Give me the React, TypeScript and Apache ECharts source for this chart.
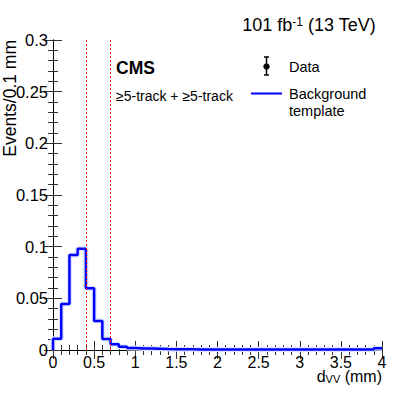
import React, { useEffect, useRef } from "react";
import * as echarts from "echarts";

const BIN_WIDTH = 0.1;
// Background template, events per 0.1 mm bin, bins from 0 to 4 mm
const templateValues = [
  0.011, 0.0445, 0.092, 0.098, 0.0597, 0.028, 0.0106, 0.0055, 0.0032, 0.002,
  0.0015, 0.0014, 0.0012, 0.0009, 0.0008, 0.0007, 0.0007, 0.0006, 0.0006, 0.0006,
  0.0006, 0.0005, 0.0005, 0.0005, 0.0005, 0.0005, 0.0005, 0.0005, 0.0005, 0.0005,
  0.0005, 0.0005, 0.0005, 0.0005, 0.0005, 0.0005, 0.0005, 0.0005, 0.0005, 0.0018,
];
const cutLines = [0.4, 0.7];
const xTicks = ["0", "0.5", "1", "1.5", "2", "2.5", "3", "3.5", "4"];
const yTicks = ["0", "0.05", "0.1", "0.15", "0.2", "0.25", "0.3"];

const FONT = "'Liberation Sans', Arial, Helvetica, sans-serif";

export default function App() {
  const ref = useRef<HTMLDivElement>(null);
  useEffect(() => {
    if (!ref.current) return;
    const chart = echarts.init(ref.current, undefined, { renderer: "svg" });
    const stepData: number[][] = [[0, 0]];
    templateValues.forEach((v, i) => stepData.push([Number((i * BIN_WIDTH).toFixed(1)), v]));
    stepData.push([templateValues.length * BIN_WIDTH, templateValues[templateValues.length - 1]]);

    const xMin = Number(xTicks[0]);
    const xMax = Number(xTicks[xTicks.length - 1]);
    const xInt = Number(xTicks[1]) - xMin;
    const yMin = Number(yTicks[0]);
    const yMax = Number(yTicks[yTicks.length - 1]);
    const yInt = Number(yTicks[1]) - yMin;

    const axisLine = { show: true, lineStyle: { color: "#000", width: 1 } };
    const tick = { show: true, inside: true, length: 9, lineStyle: { color: "#333", width: 1 } };
    const minor = { show: true, splitNumber: 5, length: 5, lineStyle: { color: "#333", width: 1 } };
    const label = { fontFamily: FONT, fontSize: 16, color: "#000" };

    chart.setOption({
      animation: false,
      grid: { left: 53, right: 25, top: 40, bottom: 43, containLabel: false },
      xAxis: [
        {
          type: "value", min: xMin, max: xMax, interval: xInt, position: "bottom",
          axisLine, axisTick: tick, minorTick: minor, splitLine: { show: false },
          axisLabel: { ...label, margin: 4, showMinLabel: true, showMaxLabel: true },
        },
        {
          type: "value", min: xMin, max: xMax, interval: xInt, position: "top",
          axisLine, axisTick: tick, minorTick: minor, splitLine: { show: false },
          axisLabel: { show: false },
        },
      ],
      yAxis: [
        {
          type: "value", min: yMin, max: yMax, interval: yInt, position: "left",
          axisLine, axisTick: tick, minorTick: minor, splitLine: { show: false },
          axisLabel: { ...label, fontSize: 16.5, margin: 5 },
        },
        {
          type: "value", min: yMin, max: yMax, interval: yInt, position: "right",
          axisLine, axisTick: tick, minorTick: minor, splitLine: { show: false },
          axisLabel: { show: false },
        },
      ],
      series: [
        {
          type: "line", step: "end", data: stepData, showSymbol: false, symbol: "none",
          lineStyle: { color: "#dbe4ff", width: 5 }, silent: true, z: 1,
        },
        {
          type: "line", step: "end", data: stepData, showSymbol: false, symbol: "none",
          lineStyle: { color: "#0000ff", width: 2.5 }, silent: true, z: 2,
          markLine: {
            silent: true, symbol: ["none", "none"], label: { show: false },
            lineStyle: { color: "#ff0000", type: [2, 2], width: 1 },
            data: cutLines.map((x) => ({ xAxis: x })),
            z: 3,
          },
        },
      ],
      graphic: [
        {
          type: "text", right: 31, top: 16,
          style: {
            text: "101 fb{sup|-1} (13 TeV)",
            fontFamily: FONT, fontSize: 18, fill: "#000",
            rich: { sup: { fontSize: 12, verticalAlign: "top", fontFamily: FONT, padding: [0, 0, 6, 0] } },
          },
        },
        {
          type: "text", x: 116, y: 68,
          style: { text: "CMS", fontFamily: FONT, fontSize: 17.5, fontWeight: "bold", fill: "#000", textVerticalAlign: "middle", verticalAlign: "middle" },
        },
        {
          type: "text", x: 116, y: 96,
          style: { text: "\u22655-track + \u22655-track", fontFamily: FONT, fontSize: 14, fill: "#000", textVerticalAlign: "middle", verticalAlign: "middle" },
        },
        { type: "line", shape: { x1: 266.5, y1: 57, x2: 266.5, y2: 75 }, style: { stroke: "#000", lineWidth: 1.5 } },
        { type: "line", shape: { x1: 264, y1: 57, x2: 269, y2: 57 }, style: { stroke: "#000", lineWidth: 1.5 } },
        { type: "line", shape: { x1: 264, y1: 75, x2: 269, y2: 75 }, style: { stroke: "#000", lineWidth: 1.5 } },
        { type: "circle", shape: { cx: 266.5, cy: 66.5, r: 3.2 }, style: { fill: "#000" } },
        {
          type: "text", x: 289, y: 67,
          style: { text: "Data", fontFamily: FONT, fontSize: 14.5, fill: "#000", textVerticalAlign: "middle", verticalAlign: "middle" },
        },
        { type: "line", shape: { x1: 251, y1: 93.5, x2: 282, y2: 93.5 }, style: { stroke: "#0000ff", lineWidth: 2 } },
        {
          type: "text", x: 289, y: 94,
          style: { text: "Background", fontFamily: FONT, fontSize: 14.5, fill: "#000", textVerticalAlign: "middle", verticalAlign: "middle" },
        },
        {
          type: "text", x: 289, y: 111,
          style: { text: "template", fontFamily: FONT, fontSize: 14.5, fill: "#000", textVerticalAlign: "middle", verticalAlign: "middle" },
        },
        {
          type: "text", x: 10, y: 40, rotation: Math.PI / 2,
          style: { text: "Events/0.1 mm", fontFamily: FONT, fontSize: 17.5, fill: "#000", textAlign: "right", align: "right", textVerticalAlign: "middle", verticalAlign: "middle" },
        },
        {
          type: "text", right: 25, top: 368,
          style: {
            text: "d{sub|VV} (mm)",
            fontFamily: FONT, fontSize: 16, fill: "#000",
            rich: { sub: { fontSize: 11, verticalAlign: "bottom", fontFamily: FONT, padding: [6, 0, 0, 0] } },
          },
        },
      ],
    });
    return () => chart.dispose();
  }, []);
  return (
    <div
      ref={ref}
      style={{ position: "fixed", left: 0, top: 0, width: 407, height: 393, background: "#fff" }}
    />
  );
}
